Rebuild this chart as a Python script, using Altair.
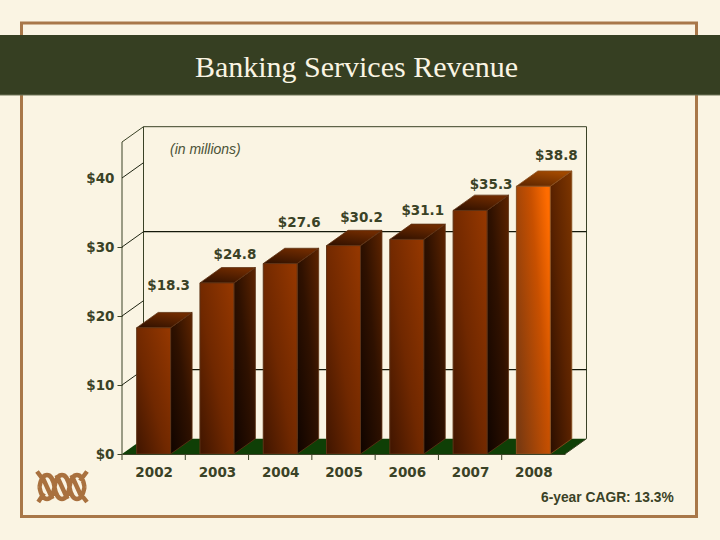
import altair as alt
import pandas as pd

# ---- chart values ----
years = [2002, 2003, 2004, 2005, 2006, 2007, 2008]
revenue = [18.3, 24.8, 27.6, 30.2, 31.1, 35.3, 38.8]
labels = ["$18.3", "$24.8", "$27.6", "$30.2", "$31.1", "$35.3", "$38.8"]
y_ticks = [0, 10, 20, 30, 40]
back_grid = [10, 30]
side_grid = [10, 20, 30, 40]
title_text = "Banking Services Revenue"
unit_text = "(in millions)"
note_text = "6-year CAGR: 13.3%"

# ---- layout of the pseudo-3D box (data units) ----
W, H = 443, 312
LEFT, TOP = 122, 142
X0, X1 = 2001.5, 2008.5
YMAX = 312 / 6.9
XU = (X1 - X0) / W
YU = YMAX / H
DX = 21.5 * XU       # depth along x
DY = 15.3 * YU       # depth along y
HALF = 0.268         # half bar width
label_dx = [15, 18, 19, 18, 16, 21, 23]
label_dy = [26, 13, 25, 12, 13, 10, 15]

INK = "#3A4226"
CREAM = "#FAF4E3"
BROWN = "#A87749"
FONT = "DejaVu Sans"

x_scale = alt.Scale(domain=[X0, X1], nice=False, zero=False)
y_scale = alt.Scale(domain=[0, YMAX], nice=False, zero=True)
x_axis = alt.Axis(
    values=years, format="d", tickSize=0, labelFont=FONT, labelFontWeight="bold",
    labelFontSize=13.5, labelColor=INK, labelPadding=11, domainColor=INK, domainWidth=1,
    grid=False, labelFlush=False, labelOverlap=False, title=None, zindex=1)
y_axis = alt.Axis(
    values=y_ticks, labelExpr="'$' + datum.value", tickSize=5, tickColor=INK,
    tickOpacity=alt.expr("datum.value == 40 ? 0 : 1"),
    labelFont=FONT, labelFontWeight="bold", labelFontSize=13.5, labelColor=INK,
    labelPadding=3, domain=False, grid=False, labelFlush=False, labelOverlap=False, title=None)


def XE(field):
    return alt.X(field, scale=x_scale, axis=x_axis)


def YE(field):
    return alt.Y(field, scale=y_scale, axis=y_axis)


def px(v):
    return alt.value(v - LEFT)


def py(v):
    return alt.value(v - TOP)


def grad(stops, x1=0, y1=1, x2=1, y2=0):
    return alt.Gradient(
        gradient="linear",
        stops=[alt.GradientStop(offset=o, color=c) for o, c in stops],
        x1=x1, y1=y1, x2=x2, y2=y2,
    )


bars = pd.DataFrame({
    "year": years, "value": revenue, "label": labels,
    "x0": [y - HALF for y in years], "x1": [y + HALF for y in years],
    "lx": [y + d * XU for y, d in zip(years, label_dx)],
    "ly": [v + DY + d * YU for v, d in zip(revenue, label_dy)],
})

side_rows, top_rows = [], []
for y, v in zip(years, revenue):
    side_rows.append({"year": y, "x": y + HALF, "t": v, "b": 0})
    side_rows.append({"year": y, "x": y + HALF + DX, "t": v + DY, "b": DY})
    top_rows.append({"year": y, "y": v, "a": y - HALF, "b": y + HALF})
    top_rows.append({"year": y, "y": v + DY, "a": y - HALF + DX, "b": y + HALF + DX})
sides = pd.DataFrame(side_rows)
tops = pd.DataFrame(top_rows)

# ---- slide furniture ----
frame = alt.Chart(pd.DataFrame({"a": [0]})).mark_rect(
    fill=CREAM, fillOpacity=0, stroke=BROWN, strokeWidth=3
).encode(x=px(21.5), x2=px(696.5), y=py(23), y2=py(516.5))
band = alt.Chart(pd.DataFrame({"a": [0]})).mark_rect(fill="#363F22").encode(
    x=px(0), x2=px(720), y=py(35), y2=py(95))
band_edge = alt.Chart(pd.DataFrame({"a": [0]})).mark_rect(fill="#6E7558").encode(
    x=px(0), x2=px(720), y=py(94.5), y2=py(95.5))

# ---- floor and walls ----
floor = alt.Chart(pd.DataFrame({
    "y": [0, DY], "a": [X0, X0 + DX], "b": [X1, X1 + DX]
})).mark_area(orient="horizontal", fill="#0F3F06").encode(
    x=XE("a:Q"), x2="b:Q", y=YE("y:Q"))


def seg(x_a, y_a, x_b, y_b, width=1.0, color=INK):
    return alt.Chart(pd.DataFrame({"x": [x_a], "y": [y_a], "x2": [x_b], "y2": [y_b]})).mark_rule(
        color=color, strokeWidth=width
    ).encode(x=XE("x:Q"), y=YE("y:Q"), x2="x2:Q", y2="y2:Q")


walls = [
    seg(X0 + DX, DY, X0 + DX, YMAX + DY),
    seg(X1 + DX, DY, X1 + DX, YMAX + DY),
    seg(X0 + DX, YMAX + DY, X1 + DX, YMAX + DY),
    seg(X0, YMAX, X0 + DX, YMAX + DY),
    seg(X0, 0, X0, YMAX),
    seg(X1, 0, X1 + DX, DY),
]
for v in side_grid:
    walls.append(seg(X0, v, X0 + DX, v + DY, color="#1E2412"))
for v in back_grid:
    walls.append(seg(X0 + DX, v + DY, X1 + DX, v + DY, width=1.3, color="#14180A"))

ticks = alt.Chart(pd.DataFrame({"x": [X0 + i for i in range(7)]})).mark_rule(
    color=INK, strokeWidth=1
).encode(x=XE("x:Q"), y=alt.value(H), y2=alt.value(H + 6))

# ---- bars ----
front_dark = grad([(0, "#3F1500"), (0.45, "#702800"), (1, "#963800")])
front_hot = grad([(0, "#7C3A10"), (0.65, "#C85000"), (1, "#FF6C00")], 0, 0.8, 1, 0.2)
side_dark = grad([(0, "#0F0400"), (0.55, "#2F1100"), (1, "#5E2400")])
side_hot = grad([(0, "#2A0E00"), (0.5, "#5A2200"), (1, "#7E3600")])
top_dark = grad([(0, "#2E1000"), (1, "#6E2A00")], 0, 1, 0.5, 0)
top_hot = grad([(0, "#5A2400"), (1, "#A04800")], 0, 1, 0.5, 0)


def bar_layers(years_in, front, side, top, edge):
    f = bars[bars.year.isin(years_in)]
    s = sides[sides.year.isin(years_in)]
    t = tops[tops.year.isin(years_in)]
    return [
        alt.Chart(s).mark_area(fill=side, stroke=edge, strokeWidth=0.8, orient="vertical").encode(
            x=XE("x:Q"), y=YE("t:Q"), y2="b:Q", detail="year:O"),
        alt.Chart(t).mark_area(fill=top, stroke=edge, strokeWidth=0.8, orient="horizontal").encode(
            x=XE("a:Q"), x2="b:Q", y=YE("y:Q"), detail="year:O"),
        alt.Chart(f).mark_rect(fill=front, stroke=edge, strokeWidth=1).encode(
            x=XE("x0:Q"), x2="x1:Q", y=YE("value:Q"), y2=alt.datum(0)),
    ]


bar_marks = bar_layers(years[:-1], front_dark, side_dark, top_dark, "#5E3214") + \
    bar_layers(years[-1:], front_hot, side_hot, top_hot, "#8A5020")

# ---- value labels ----
value_labels = alt.Chart(bars).mark_text(
    font=FONT, fontWeight="bold", fontSize=13.5, color=INK, align="center", baseline="middle"
).encode(x=XE("lx:Q"), y=YE("ly:Q"), text="label:N")


def note(text, x, y, **kw):
    return alt.Chart(pd.DataFrame({"t": [text]})).mark_text(baseline="middle", **kw).encode(
        x=px(x), y=py(y), text="t:N")


title = note(title_text, 356.5, 67.5, font="Liberation Serif", fontSize=30, color=CREAM, align="center")
unit = note(unit_text, 170, 150, font="Liberation Sans", fontStyle="italic", fontSize=14, color="#4A5236", align="left")
cagr = note(note_text, 541, 498, font="Liberation Sans", fontWeight="bold", fontSize=13.8, color=INK, align="left")

# ---- logo ----
LOGO = (
    "M-0.9 0 C-0.8 -0.64 -0.4 -0.64 -0.3 0 C-0.2 0.64 0.2 0.64 0.3 0 C0.4 -0.64 0.8 -0.64 0.9 0 "
    "M-0.9 0 C-0.8 0.64 -0.4 0.64 -0.3 0 C-0.2 -0.64 0.2 -0.64 0.3 0 C0.4 0.64 0.8 0.64 0.9 0 "
    "M-0.82 -0.48 L-0.38 0.48 M-0.22 -0.48 L0.22 0.48 M0.38 -0.48 L0.82 0.48 "
    "M-1 -0.62 L-0.72 -0.25 M1 -0.62 L0.72 -0.25 M-0.95 0.6 L-0.72 0.25 M1 0.6 L0.72 0.25"
)
logo = alt.Chart(pd.DataFrame({"a": [0]})).mark_point(
    shape=LOGO, size=2500, filled=False, stroke="#A9713F", strokeWidth=4.4, opacity=1
).encode(x=px(62), y=py(487))

chart = alt.layer(
    frame, band, band_edge, floor, *walls, ticks, *bar_marks, value_labels,
    title, unit, cagr, logo,
).properties(
    width=W, height=H,
    padding={"left": LEFT, "top": TOP, "right": 720 - LEFT - W, "bottom": 540 - TOP - H},
    autosize=alt.AutoSizeParams(type="none"),
    background=CREAM,
).configure_view(stroke=None)

chart.save("out.html", embed_options={
    "renderer": "svg", "actions": False,
    "defaultStyle": "html,body{margin:0;padding:0;overflow:hidden;background:#FAF4E3}",
})
